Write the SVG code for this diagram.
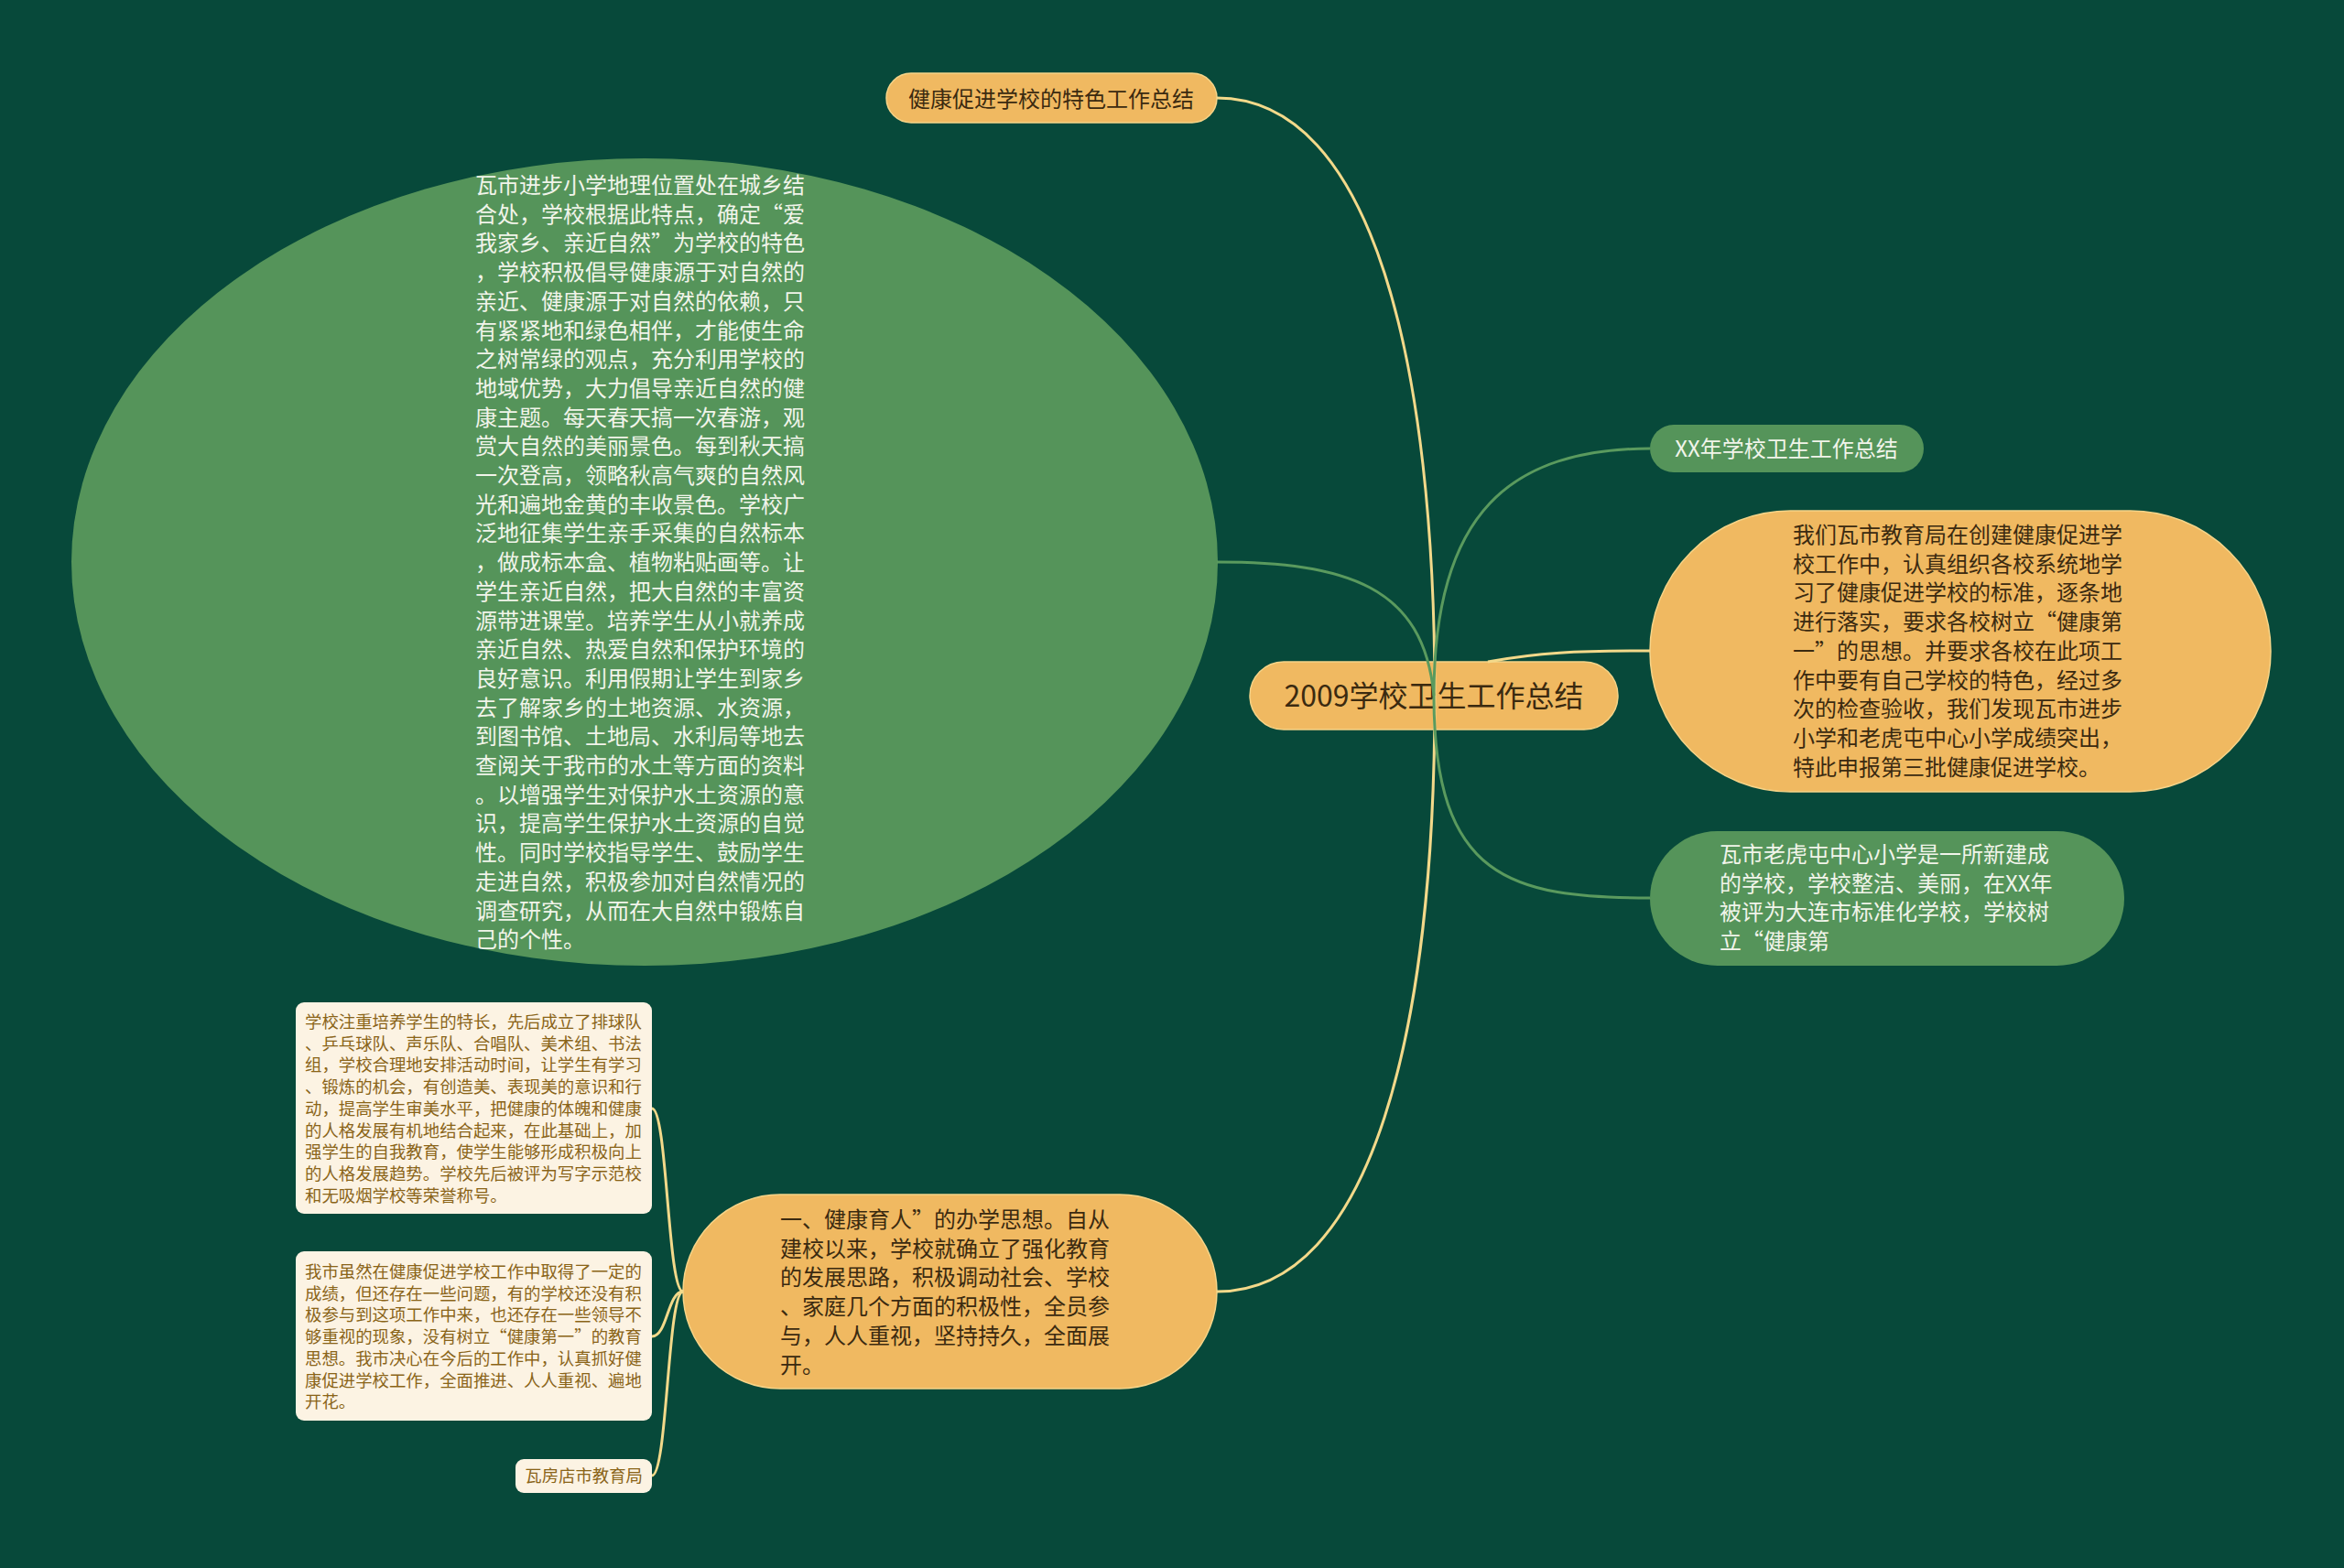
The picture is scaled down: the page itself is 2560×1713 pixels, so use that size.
<svg xmlns="http://www.w3.org/2000/svg" width="2560" height="1713" viewBox="0 0 2560 1713">
<style>
.bg{fill:#07493a}
.org{fill:#f0b961;stroke:#f6d488;stroke-width:1.5}
.grn{fill:#55945a}
.crm{fill:#fcf3e3}
.t{font-family:"Noto Sans CJK SC","Noto Sans",sans-serif;font-size:24px}
.td{fill:#3b2a10}
.tw{fill:#f1f4ea}
.tc{font-family:"Noto Sans CJK SC","Noto Sans",sans-serif;font-size:18.4px;fill:#8a6418}
.cy{fill:none;stroke:#f3d98a;stroke-width:3}
.cg{fill:none;stroke:#5a9a5e;stroke-width:3}
</style>
<rect class="bg" x="0" y="0" width="2560" height="1713"/>

<g id="node-ellipse">
<ellipse class="grn" cx="704" cy="614" rx="626" ry="441"/>
<text class="t tw" x="519" y="211">
<tspan x="519" dy="0">瓦市进步小学地理位置处在城乡结</tspan>
<tspan x="519" dy="31.7">合处，学校根据此特点，确定“爱</tspan>
<tspan x="519" dy="31.7">我家乡、亲近自然”为学校的特色</tspan>
<tspan x="519" dy="31.7">，学校积极倡导健康源于对自然的</tspan>
<tspan x="519" dy="31.7">亲近、健康源于对自然的依赖，只</tspan>
<tspan x="519" dy="31.7">有紧紧地和绿色相伴，才能使生命</tspan>
<tspan x="519" dy="31.7">之树常绿的观点，充分利用学校的</tspan>
<tspan x="519" dy="31.7">地域优势，大力倡导亲近自然的健</tspan>
<tspan x="519" dy="31.7">康主题。每天春天搞一次春游，观</tspan>
<tspan x="519" dy="31.7">赏大自然的美丽景色。每到秋天搞</tspan>
<tspan x="519" dy="31.7">一次登高，领略秋高气爽的自然风</tspan>
<tspan x="519" dy="31.7">光和遍地金黄的丰收景色。学校广</tspan>
<tspan x="519" dy="31.7">泛地征集学生亲手采集的自然标本</tspan>
<tspan x="519" dy="31.7">，做成标本盒、植物粘贴画等。让</tspan>
<tspan x="519" dy="31.7">学生亲近自然，把大自然的丰富资</tspan>
<tspan x="519" dy="31.7">源带进课堂。培养学生从小就养成</tspan>
<tspan x="519" dy="31.7">亲近自然、热爱自然和保护环境的</tspan>
<tspan x="519" dy="31.7">良好意识。利用假期让学生到家乡</tspan>
<tspan x="519" dy="31.7">去了解家乡的土地资源、水资源，</tspan>
<tspan x="519" dy="31.7">到图书馆、土地局、水利局等地去</tspan>
<tspan x="519" dy="31.7">查阅关于我市的水土等方面的资料</tspan>
<tspan x="519" dy="31.7">。以增强学生对保护水土资源的意</tspan>
<tspan x="519" dy="31.7">识，提高学生保护水土资源的自觉</tspan>
<tspan x="519" dy="31.7">性。同时学校指导学生、鼓励学生</tspan>
<tspan x="519" dy="31.7">走进自然，积极参加对自然情况的</tspan>
<tspan x="519" dy="31.7">调查研究，从而在大自然中锻炼自</tspan>
<tspan x="519" dy="31.7">己的个性。</tspan>
</text>
</g>

<g id="node-top">
<rect class="org" x="968" y="80" width="361" height="54" rx="27"/>
<text class="t td" x="1148" y="117" text-anchor="middle">健康促进学校的特色工作总结</text>
</g>

<g id="node-bottom">
<rect class="org" x="746" y="1305" width="583" height="212" rx="106"/>
<text class="t td" x="852" y="1341">
<tspan x="852" dy="0">一、健康育人”的办学思想。自从</tspan>
<tspan x="852" dy="31.7">建校以来，学校就确立了强化教育</tspan>
<tspan x="852" dy="31.7">的发展思路，积极调动社会、学校</tspan>
<tspan x="852" dy="31.7">、家庭几个方面的积极性，全员参</tspan>
<tspan x="852" dy="31.7">与，人人重视，坚持持久，全面展</tspan>
<tspan x="852" dy="31.7">开。</tspan>
</text>
</g>

<g id="node-cream-1">
<rect class="crm" x="323" y="1095" width="389" height="231" rx="9"/>
<text class="tc" x="333" y="1123">
<tspan x="333" dy="0">学校注重培养学生的特长，先后成立了排球队</tspan>
<tspan x="333" dy="23.7">、乒乓球队、声乐队、合唱队、美术组、书法</tspan>
<tspan x="333" dy="23.7">组，学校合理地安排活动时间，让学生有学习</tspan>
<tspan x="333" dy="23.7">、锻炼的机会，有创造美、表现美的意识和行</tspan>
<tspan x="333" dy="23.7">动，提高学生审美水平，把健康的体魄和健康</tspan>
<tspan x="333" dy="23.7">的人格发展有机地结合起来，在此基础上，加</tspan>
<tspan x="333" dy="23.7">强学生的自我教育，使学生能够形成积极向上</tspan>
<tspan x="333" dy="23.7">的人格发展趋势。学校先后被评为写字示范校</tspan>
<tspan x="333" dy="23.7">和无吸烟学校等荣誉称号。</tspan>
</text>
</g>

<g id="node-cream-2">
<rect class="crm" x="323" y="1367" width="389" height="185" rx="9"/>
<text class="tc" x="333" y="1396">
<tspan x="333" dy="0">我市虽然在健康促进学校工作中取得了一定的</tspan>
<tspan x="333" dy="23.7">成绩，但还存在一些问题，有的学校还没有积</tspan>
<tspan x="333" dy="23.7">极参与到这项工作中来，也还存在一些领导不</tspan>
<tspan x="333" dy="23.7">够重视的现象，没有树立“健康第一”的教育</tspan>
<tspan x="333" dy="23.7">思想。我市决心在今后的工作中，认真抓好健</tspan>
<tspan x="333" dy="23.7">康促进学校工作，全面推进、人人重视、遍地</tspan>
<tspan x="333" dy="23.7">开花。</tspan>
</text>
</g>

<g id="node-cream-3">
<rect class="crm" x="563" y="1594" width="149" height="37" rx="9"/>
<text class="tc" x="702" y="1619" text-anchor="end">瓦房店市教育局</text>
</g>

<g id="node-xx">
<rect class="grn" x="1802" y="464" width="299" height="52" rx="26"/>
<text class="t tw" x="1951" y="499" text-anchor="middle">XX年学校卫生工作总结</text>
</g>

<g id="node-right-orange">
<rect class="org" x="1802" y="558" width="678" height="307" rx="153.5"/>
<text class="t td" x="1958" y="593">
<tspan x="1958" dy="0">我们瓦市教育局在创建健康促进学</tspan>
<tspan x="1958" dy="31.7">校工作中，认真组织各校系统地学</tspan>
<tspan x="1958" dy="31.7">习了健康促进学校的标准，逐条地</tspan>
<tspan x="1958" dy="31.7">进行落实，要求各校树立“健康第</tspan>
<tspan x="1958" dy="31.7">一”的思想。并要求各校在此项工</tspan>
<tspan x="1958" dy="31.7">作中要有自己学校的特色，经过多</tspan>
<tspan x="1958" dy="31.7">次的检查验收，我们发现瓦市进步</tspan>
<tspan x="1958" dy="31.7">小学和老虎屯中心小学成绩突出，</tspan>
<tspan x="1958" dy="31.7">特此申报第三批健康促进学校。</tspan>
</text>
</g>

<g id="node-right-green">
<rect class="grn" x="1802" y="908" width="518" height="147" rx="73.5"/>
<text class="t tw" x="1878" y="942">
<tspan x="1878" dy="0">瓦市老虎屯中心小学是一所新建成</tspan>
<tspan x="1878" dy="31.7">的学校，学校整洁、美丽，在XX年</tspan>
<tspan x="1878" dy="31.7">被评为大连市标准化学校，学校树</tspan>
<tspan x="1878" dy="31.7">立“健康第</tspan>
</text>
</g>

<g id="node-center">
<rect class="org" x="1365" y="723" width="402" height="74" rx="37"/>
<text class="t td" x="1566" y="772" text-anchor="middle" style="font-size:32px">2009学校卫生工作总结</text>
</g>

<g id="connectors">
<path class="cy" d="M1329,107 C1500,107 1567,400 1567,760"/>
<path class="cy" d="M1567,760 C1567,1120 1500,1411 1329,1411"/>
<path class="cg" d="M1329,614 C1470,614 1555,640 1566,760"/>
<path class="cg" d="M1566,760 C1566,560 1650,490 1802,490"/>
<path class="cg" d="M1566,760 C1566,960 1650,981 1802,981"/>
<path class="cy" d="M1625,723 C1680,713 1720,711 1802,711"/>
<path class="cy" d="M746,1411 C729,1411 729,1211 712,1211"/>
<path class="cy" d="M746,1411 C729,1411 729,1460 712,1460"/>
<path class="cy" d="M746,1411 C729,1411 729,1612 712,1612"/>
</g>
</svg>
